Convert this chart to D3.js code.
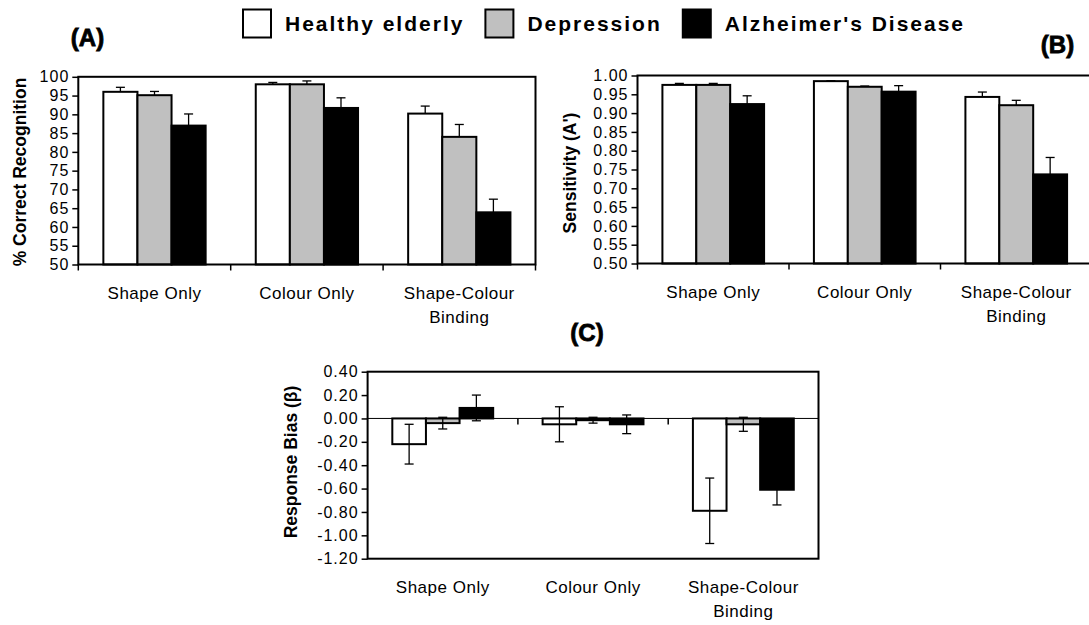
<!DOCTYPE html>
<html>
<head>
<meta charset="utf-8">
<script src="https://cdn.jsdelivr.net/npm/d3@7"></script>
<style>
  html, body { margin: 0; padding: 0; background: #fff; }
  svg { display: block; }
  text { font-family: "Liberation Sans", Arial, sans-serif; fill: #000; }
</style>
</head>
<body>
<svg id="chart" width="1089" height="625"></svg>
<script>
// ---- data ----
const categories = ["Shape Only", "Colour Only", "Shape-Colour Binding"];
const categoryLines = [["Shape Only"], ["Colour Only"], ["Shape-Colour", "Binding"]];
const groups = ["Healthy elderly", "Depression", "Alzheimer's Disease"];
const groupFill = ["#ffffff", "#c0c0c0", "#000000"];

// (A) % correct recognition, mean and SE
const recogHealthy = [96.0, 98.0, 90.2];
const recogHealthyErr = [1.2, 0.5, 2.0];
const recogDepression = [95.1, 98.0, 84.0];
const recogDepressionErr = [1.0, 0.9, 3.3];
const recogAlzheimer = [87.0, 91.7, 63.9];
const recogAlzheimerErr = [3.1, 2.7, 3.5];
const recogTicks = [50, 55, 60, 65, 70, 75, 80, 85, 90, 95, 100];

// (B) sensitivity A'
const sensHealthy = [0.975, 0.985, 0.943];
const sensHealthyErr = [0.004, 0.001, 0.013];
const sensDepression = [0.975, 0.970, 0.921];
const sensDepressionErr = [0.004, 0.002, 0.013];
const sensAlzheimer = [0.924, 0.957, 0.737];
const sensAlzheimerErr = [0.022, 0.016, 0.045];
const sensTicks = [0.50, 0.55, 0.60, 0.65, 0.70, 0.75, 0.80, 0.85, 0.90, 0.95, 1.00];

// (C) response bias beta
const biasHealthy = [-0.22, -0.05, -0.79];
const biasHealthyErr = [0.17, 0.15, 0.28];
const biasDepression = [-0.04, -0.015, -0.05];
const biasDepressionErr = [0.05, 0.025, 0.06];
const biasAlzheimer = [0.09, -0.05, -0.61];
const biasAlzheimerErr = [0.11, 0.08, 0.13];
const biasTicks = [0.40, 0.20, 0.00, -0.20, -0.40, -0.60, -0.80, -1.00, -1.20];

// ---- drawing ----
const svg = d3.select("#chart");

function drawPanel(cfg) {
  const g = svg.append("g");
  const x0 = d3.scaleBand().domain(categories).range([cfg.left, cfg.right]).padding(0);
  const x1 = d3.scaleBand().domain(groups).range([0, x0.bandwidth()])
    .paddingInner(0).paddingOuter(0.735);
  const y = d3.scaleLinear().domain(cfg.domain).range([cfg.bottom, cfg.top]);
  const base = cfg.base;

  // bars
  cfg.means.forEach((vals, si) => {
    g.selectAll(null).data(vals).enter().append("rect")
      .attr("x", (d, i) => x0(categories[i]) + x1(groups[si]))
      .attr("y", d => y(Math.max(d, base)))
      .attr("width", x1.bandwidth())
      .attr("height", d => Math.abs(y(d) - y(base)))
      .attr("fill", groupFill[si])
      .attr("stroke", "#000")
      .attr("stroke-width", 2);
  });

  // zero reference line with category ticks (bias panel)
  if (cfg.zeroLine) {
    g.append("line")
      .attr("x1", cfg.left).attr("x2", cfg.right)
      .attr("y1", y(0)).attr("y2", y(0))
      .attr("stroke", "#000").attr("stroke-width", 1);
  }

  // error bars
  const capW = 9;
  cfg.means.forEach((vals, si) => {
    const errs = cfg.errs[si];
    vals.forEach((v, i) => {
      const cx = x0(categories[i]) + x1(groups[si]) + x1.bandwidth() / 2;
      const hi = y(v + errs[i]);
      const lo = cfg.bothErr ? y(v - errs[i]) : y(v);
      const eg = g.append("g").attr("stroke", "#000").attr("stroke-width", 1.3);
      eg.append("line").attr("x1", cx).attr("x2", cx).attr("y1", hi).attr("y2", lo);
      eg.append("line").attr("x1", cx - capW / 2).attr("x2", cx + capW / 2).attr("y1", hi).attr("y2", hi);
      if (cfg.bothErr) {
        eg.append("line").attr("x1", cx - capW / 2).attr("x2", cx + capW / 2).attr("y1", lo).attr("y2", lo);
      }
    });
  });

  // plot frame
  g.append("rect")
    .attr("x", cfg.left).attr("y", cfg.top)
    .attr("width", cfg.right - cfg.left).attr("height", cfg.bottom - cfg.top)
    .attr("fill", "none").attr("stroke", "#000").attr("stroke-width", 2);

  // category boundary ticks
  const bounds = categories.map(c => x0(c)).concat([cfg.right]);
  const tickY = cfg.zeroLine ? y(0) : y(base);
  const tickBounds = cfg.zeroLine ? bounds.slice(1, -1) : bounds;
  g.selectAll(null).data(tickBounds).enter().append("line")
    .attr("x1", d => d).attr("x2", d => d)
    .attr("y1", tickY).attr("y2", tickY + 6)
    .attr("stroke", "#000").attr("stroke-width", 1.5);

  // value axis
  const ax = g.append("g")
    .attr("transform", `translate(${cfg.left},0)`)
    .call(d3.axisLeft(y).tickValues(cfg.ticks).tickFormat(cfg.fmt).tickSize(6).tickPadding(3));
  ax.select(".domain").remove();
  ax.selectAll(".tick line").attr("stroke", "#000").attr("stroke-width", 1.5);
  ax.selectAll(".tick text")
    .attr("font-family", "Liberation Sans, Arial, sans-serif")
    .attr("font-size", 16)
    .attr("letter-spacing", "1px")
    .attr("fill", "#000");

  // category labels
  categoryLines.forEach((lines, i) => {
    const cx = x0(categories[i]) + x0.bandwidth() / 2;
    lines.forEach((ln, k) => {
      g.append("text")
        .attr("x", cx).attr("y", cfg.bottom + 34 + k * 24)
        .attr("text-anchor", "middle")
        .attr("font-size", 17)
        .attr("letter-spacing", "0.5px")
        .text(ln);
    });
  });

  // value axis title
  g.append("text")
    .attr("transform", `translate(${cfg.titleX},${cfg.titleY}) rotate(-90)`)
    .attr("text-anchor", "middle")
    .attr("font-size", 17.5)
    .attr("font-weight", "bold")
    .text(cfg.yTitle);

  // panel letter
  g.append("text")
    .attr("x", cfg.tagX).attr("y", cfg.tagY)
    .attr("text-anchor", "middle")
    .attr("font-family", "DejaVu Sans, sans-serif")
    .attr("font-weight", "bold")
    .attr("font-size", 24)
    .attr("stroke", "#000").attr("stroke-width", 0.8)
    .text(cfg.tag);
}

drawPanel({
  left: 78.3, right: 535.5, top: 76.8, bottom: 264.5,
  domain: [50, 100], base: 50, ticks: recogTicks, fmt: d3.format("d"),
  means: [recogHealthy, recogDepression, recogAlzheimer],
  errs: [recogHealthyErr, recogDepressionErr, recogAlzheimerErr],
  bothErr: false, zeroLine: false,
  yTitle: "% Correct Recognition", titleX: 26, titleY: 172,
  tag: "(A)", tagX: 87.5, tagY: 46
});

drawPanel({
  left: 637.5, right: 1092, top: 75.5, bottom: 263.5,
  domain: [0.5, 1.0], base: 0.5, ticks: sensTicks, fmt: d => d.toFixed(2),
  means: [sensHealthy, sensDepression, sensAlzheimer],
  errs: [sensHealthyErr, sensDepressionErr, sensAlzheimerErr],
  bothErr: false, zeroLine: false,
  yTitle: "Sensitivity (A')", titleX: 576, titleY: 173,
  tag: "(B)", tagX: 1057.5, tagY: 53
});

drawPanel({
  left: 367.6, right: 818.5, top: 371.7, bottom: 558.7,
  domain: [-1.2, 0.4], base: 0, ticks: biasTicks, fmt: d => d.toFixed(2),
  means: [biasHealthy, biasDepression, biasAlzheimer],
  errs: [biasHealthyErr, biasDepressionErr, biasAlzheimerErr],
  bothErr: true, zeroLine: true,
  yTitle: "Response Bias (β)", titleX: 297, titleY: 462,
  tag: "(C)", tagX: 587, tagY: 341
});

// legend
const legend = svg.append("g");
let lx = 243;
groups.forEach((name, i) => {
  legend.append("rect")
    .attr("x", lx).attr("y", 9.5).attr("width", 28).attr("height", 28)
    .attr("fill", groupFill[i]).attr("stroke", "#000").attr("stroke-width", 2);
  const t = legend.append("text")
    .attr("x", lx + 42).attr("y", 31)
    .attr("font-size", 21).attr("font-weight", "bold")
    .attr("letter-spacing", "2px")
    .text(name);
  lx = lx + 42 + t.node().getComputedTextLength() + 21;
});
</script>
</body>
</html>
